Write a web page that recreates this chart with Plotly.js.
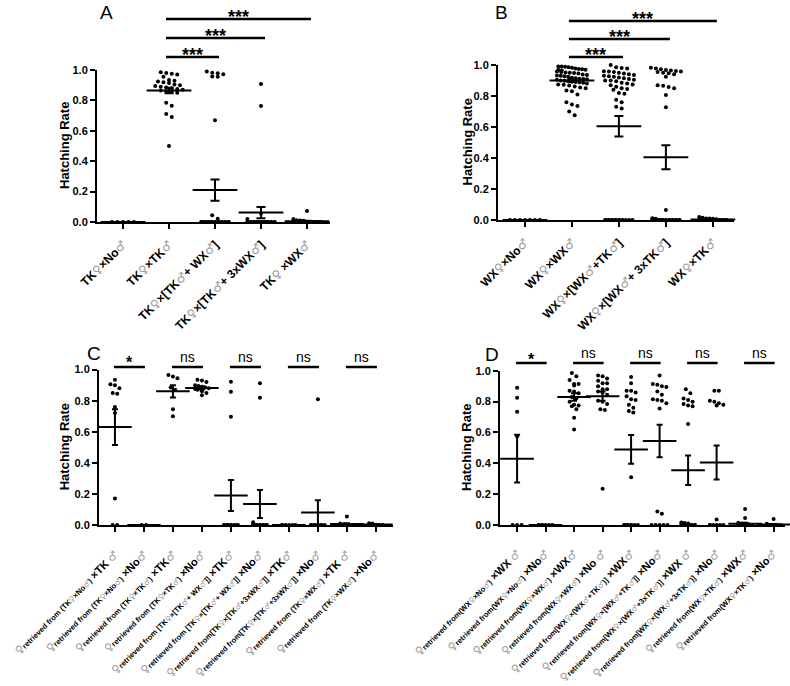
<!DOCTYPE html>
<html><head><meta charset="utf-8">
<script src="https://cdn.plot.ly/plotly-3.0.1.min.js"></script>
<style>html,body{margin:0;padding:0;background:#fff}</style>
</head><body>
<div id="chart" style="width:790px;height:686px"></div>
<script>
// ================= DATA =================
// Panel A – TK females
const labelsA = ['TK♀×No♂','TK♀×TK♂','TK♀×[TK♂+ WX♂]','TK♀×[TK♂+ 3xWX♂]','TK♀ ×WX♂'];
const A_TKxNo = [0,0,0,0,0];
const A_TKxTK = [0.985,0.98,0.975,0.97,0.955,0.935,0.93,0.925,0.92,0.915,0.905,0.90,0.895,0.89,0.885,0.88,0.875,0.87,0.865,0.86,0.855,0.85,0.785,0.765,0.71,0.69,0.50];
const A_TKxTKWX = [0.99,0.982,0.978,0.972,0.958,0.955,0.67,0.044,0.022,0,0,0,0,0,0,0,0,0,0,0,0,0,0,0,0,0,0,0,0,0,0];
const A_TKxTK3WX = [0.908,0.763,0.055,0.02,0,0,0,0,0,0,0,0,0,0,0,0,0,0,0,0,0,0,0,0,0,0,0,0];
const A_TKxWX = [0.073,0.02,0.012,0.01,0.008,0,0,0,0,0,0,0,0,0,0,0,0,0,0,0,0,0,0,0];
const meanA = [0,0.865,0.21,0.062,0.005];
const semA  = [0,0.018,0.07,0.037,0.004];

// Panel B – WX females
const labelsB = ['WX♀×No♂','WX♀×WX♂','WX♀×[WX♂+TK♂]','WX♀×[WX♂+ 3xTK♂]','WX♀×TK♂'];
const B_WXxNo = [0,0,0,0,0,0,0];
const B_WXxWX = [0.99,0.99,0.988,0.985,0.982,0.978,0.975,0.972,0.97,0.968,0.965,0.958,0.955,0.952,0.95,0.948,0.945,0.938,0.935,0.932,0.93,0.928,0.925,0.918,0.915,0.912,0.91,0.908,0.905,0.90,0.898,0.895,0.892,0.89,0.888,0.885,0.88,0.875,0.872,0.868,0.862,0.855,0.85,0.835,0.83,0.81,0.76,0.745,0.735,0.70,0.675];
const B_WXxWXTK = [1.0,0.985,0.98,0.978,0.96,0.958,0.955,0.95,0.945,0.94,0.935,0.93,0.928,0.925,0.92,0.915,0.91,0.905,0.90,0.90,0.895,0.885,0.88,0.875,0.87,0.86,0.85,0.845,0.84,0.82,0.815,0.775,0.76,0.73,0.72,0,0,0,0,0,0,0,0,0,0,0,0,0,0,0];
const B_WXxWX3TK = [0.983,0.978,0.972,0.968,0.965,0.961,0.958,0.955,0.95,0.946,0.94,0.925,0.87,0.866,0.858,0.85,0.806,0.727,0.065,0.012,0.008,0,0,0,0,0,0,0,0,0,0,0,0,0,0,0,0,0,0,0,0];
const B_WXxTK = [0.02,0.015,0.01,0.01,0.008,0.005,0,0,0,0,0,0,0,0,0,0,0,0,0,0,0,0];
const meanB = [0,0.90,0.605,0.405,0.003];
const semB  = [0,0.01,0.066,0.077,0.002];

// Panel C – females retrieved from TK crosses, re-mated
const fromC = ['♀retrieved from (TK♀×No♂)','♀retrieved from (TK♀×No♂)','♀retrieved from (TK♀×TK♂)','♀retrieved from (TK♀×TK♂)','♀retrieved from [TK♀×[TK♂+ WX♂]]','♀retrieved from [TK♀×[TK♂+ WX♂]]','♀retrieved from[TK♀×[TK♂+3xWX♂]]','♀retrieved from[TK♀×[TK♂+3xWX♂]]','♀retrieved from (TK♀×WX♂)','♀retrieved from (TK♀×WX♂)'];
const mateC = ['×TK ♂','×No♂','×TK♂','×No♂','×TK♂','×No♂','×TK♂','×No♂','×TK ♂','×No♂'];
const C0 = [0.935,0.905,0.90,0.88,0.85,0.845,0.76,0.72,0.17,0,0];
const C1 = [0,0];
const C2 = [0.965,0.955,0.945,0.885,0.87,0.745,0.70];
const C3 = [0.935,0.93,0.92,0.90,0.895,0.89,0.885,0.88,0.875,0.87,0.86,0.85,0.835];
const C4 = [0.922,0.858,0.697,0,0,0,0,0,0,0,0,0,0];
const C5 = [0.912,0.819,0.017,0,0,0,0,0,0,0,0,0,0];
const C6 = [0,0,0,0,0,0];
const C7 = [0.809,0,0,0,0,0,0,0,0,0];
const C8 = [0.055,0.01,0.005,0,0,0,0,0,0,0];
const C9 = [0.012,0.01,0,0,0,0,0,0];
const meanC = [0.63,0,0.86,0.882,0.19,0.135,0,0.08,0.006,0.003];
const semC  = [0.115,0,0.04,0.01,0.10,0.09,0,0.08,0.005,0.002];
const sigC  = ['*','ns','ns','ns','ns'];

// Panel D – females retrieved from WX crosses, re-mated
const fromD = ['♀retrieved from(WX♀×No♂)','♀retrieved from(WX♀×No♂)','♀retrieved from(WX♀×WX♂)','♀retrieved from(WX♀×WX♂)','♀retrieved from[WX♀×(WX♂+TK♂)]','♀retrieved from[WX♀×[WX♂+TK♂]]','♀retrieved from[WX♀×(WX♂+3xTK♂)]','♀retrieved from[WX♀×(WX♂+3xTK♂)]','♀retrieved from(WX♀×TK♂)','♀retrieved from(WX♀×TK♂)'];
const mateD = ['×WX ♂','×No♂','×WX♂','×No ♂','×WX♂','×No♂','×WX ♂','×No♂','×WX♂','×No♂'];
const D0 = [0.89,0.825,0.735,0.575,0,0,0];
const D1 = [0,0,0,0,0,0,0];
const D2 = [0.985,0.965,0.94,0.915,0.905,0.915,0.87,0.865,0.855,0.83,0.82,0.80,0.78,0.775,0.77,0.75,0.695,0.62];
const D3 = [0.97,0.965,0.95,0.935,0.92,0.92,0.90,0.88,0.88,0.865,0.86,0.845,0.805,0.80,0.785,0.75,0.745,0.235];
const D4 = [0.96,0.92,0.87,0.87,0.86,0.835,0.815,0.81,0.78,0.76,0.74,0.73,0.31,0,0,0,0,0,0,0,0];
const D5 = [0.97,0.915,0.91,0.90,0.895,0.865,0.845,0.815,0.81,0.805,0.79,0.755,0.088,0.073,0,0,0,0,0];
const D6 = [0.88,0.855,0.82,0.81,0.80,0.785,0.775,0.77,0.655,0.017,0.013,0.01,0,0,0,0,0,0,0,0];
const D7 = [0.87,0.87,0.805,0.80,0.79,0.78,0.775,0.035,0,0,0,0,0,0];
const D8 = [0.103,0.045,0.015,0.01,0.008,0.005,0,0,0,0,0,0,0,0];
const D9 = [0.039,0.008,0,0,0,0,0,0,0];
const meanD = [0.43,0,0.83,0.835,0.49,0.545,0.355,0.405,0.008,0.003];
const semD  = [0.155,0,0.025,0.03,0.093,0.105,0.095,0.11,0.007,0.003];
const sigD  = ['*','ns','ns','ns','ns'];

// significance comparisons in A and B
const sigAB = [[1,4,'***'],[1,3,'***'],[1,2,'***']];
const yTitle = 'Hatching Rate';

// ================= DRAWING =================
const W = 790, H = 686;
const FONT = 'Liberation Sans, Arial, Helvetica, sans-serif';
const SYMCOL = '#9c9c9c';
function sym(s){ return s.replace(/[♀♂]/g, c => '<span style="color:'+SYMCOL+';font-weight:normal;font-family:DejaVu Sans">'+c+'</span>'); }
function longLabel(from, mate){
  return sym(from.slice(0,1)) + '<span style="font-size:7.6px">' + sym(from.slice(1)) + '</span> ' + sym(mate);
}

function swarm(vals, bin, step, maxHalf, minStep){
  const order = vals.map((v,i)=>i).sort((a,b)=>vals[b]-vals[a]);
  const rows = [];
  for(const i of order){
    const r = rows[rows.length-1];
    if(r && vals[r[0]] - vals[i] <= bin) r.push(i); else rows.push([i]);
  }
  const off = vals.map(()=>0);
  for(const r of rows){
    const k = r.length; let s = step, slots = k;
    if(k>1 && (k-1)*s/2 > maxHalf){
      s = 2*maxHalf/(k-1);
      if(s < minStep){ s = minStep; slots = Math.floor(2*maxHalf/minStep)+1; }
    }
    const kk = Math.min(k, slots);
    r.forEach((i,j)=>{ off[i] = ((j%kk)-(kk-1)/2)*s; });
  }
  return off;
}

const panels = [
  {letter:'A', groups:[A_TKxNo,A_TKxTK,A_TKxTKWX,A_TKxTK3WX,A_TKxWX], means:meanA, sems:semA,
   ticks:labelsA.map(sym), tickSize:12, labelGap:4, pxL:97, pxR:330, pyB:222, pyT:70, range:[-0.565,4.5],
   step:5.5, maxHalf:15, dot:4, meanW:32, cap:4.5, letterPos:[106,13], titleX:65},
  {letter:'B', groups:[B_WXxNo,B_WXxWX,B_WXxWXTK,B_WXxWX3TK,B_WXxTK], means:meanB, sems:semB,
   ticks:labelsB.map(sym), tickSize:12, labelGap:4, pxL:498, pxR:734, pyB:220, pyT:65, range:[-0.574,4.45],
   step:5.5, maxHalf:15, dot:4, meanW:32, cap:4.5, letterPos:[502,12], titleX:467},
  {letter:'C', groups:[C0,C1,C2,C3,C4,C5,C6,C7,C8,C9], means:meanC, sems:semC,
   ticks:fromC.map((f,i)=>longLabel(f,mateC[i])), tickSize:11, labelGap:12, pxL:99, pxR:393, pyB:525, pyT:369.6, range:[-0.55,9.59],
   step:4.5, maxHalf:8, dot:4, meanW:24, cap:3, letterPos:[94,353], titleX:64},
  {letter:'D', groups:[D0,D1,D2,D3,D4,D5,D6,D7,D8,D9], means:meanD, sems:semD,
   ticks:fromD.map((f,i)=>longLabel(f,mateD[i])), tickSize:11, labelGap:11, pxL:500, pxR:785, pyB:525, pyT:370.8, range:[-0.6,9.4],
   step:4.5, maxHalf:8, dot:4, meanW:24, cap:3, letterPos:[492,354], titleX:467}
];

const traces = [], shapes = [], annotations = [];
const layout = {width:W, height:H, margin:{l:0,r:0,t:0,b:0}, paper_bgcolor:'#fff', plot_bgcolor:'rgba(0,0,0,0)',
  showlegend:false, font:{family:FONT, color:'#000'}};

function catPx(p, c){ return p.pxL + (c - p.range[0])/(p.range[1]-p.range[0])*(p.pxR-p.pxL); }

panels.forEach((p, idx)=>{
  const s = idx===0 ? '' : String(idx+1);
  const pxPerCat = (p.pxR-p.pxL)/(p.range[1]-p.range[0]);
  const pxPerVal = (p.pyB-p.pyT);
  const xs=[], ys=[];
  p.groups.forEach((g,gi)=>{
    const off = swarm(g, 4/pxPerVal, p.step/pxPerCat, p.maxHalf/pxPerCat, 3.4/pxPerCat);
    g.forEach((v,k)=>{ xs.push(gi+off[k]); ys.push(v); });
  });
  traces.push({type:'scatter', mode:'markers', x:xs, y:ys, xaxis:'x'+s, yaxis:'y'+s,
    marker:{color:'#000', size:p.dot}, cliponaxis:false, hoverinfo:'y'});
  traces.push({type:'scatter', mode:'markers', x:p.groups.map((g,i)=>i), y:p.means, xaxis:'x'+s, yaxis:'y'+s,
    marker:{symbol:'line-ew', size:p.meanW, color:'#000', line:{color:'#000', width:2}},
    error_y:{type:'data', array:p.sems, visible:true, color:'#000', thickness:2, width:p.cap},
    cliponaxis:false, hoverinfo:'y'});

  layout['xaxis'+s] = {domain:[p.pxL/W, p.pxR/W], range:p.range, anchor:'y'+s,
    tickmode:'array', tickvals:p.groups.map((g,i)=>i), ticktext:p.ticks, tickangle:-45,
    ticklabeloverflow:'allow', ticklabelstandoff:p.labelGap,
    showline:true, linewidth:2, linecolor:'#000', ticks:'outside', ticklen:5, tickwidth:2, tickcolor:'#000',
    showgrid:false, zeroline:false, fixedrange:true,
    tickfont:{family:FONT, size:p.tickSize, color:'#000', weight:'bold'}};
  layout['yaxis'+s] = {domain:[1-p.pyB/H, 1-p.pyT/H], range:[0,1], anchor:'x'+s,
    tickmode:'linear', tick0:0, dtick:0.2, tickformat:'.1f',
    showline:true, linewidth:2, linecolor:'#000', ticks:'outside', ticklen:5, tickwidth:2, tickcolor:'#000',
    showgrid:false, zeroline:false, fixedrange:true,
    tickfont:{family:FONT, size:11, color:'#000', weight:'bold'}};

  annotations.push({xref:'paper', yref:'paper', x:p.titleX/W, y:1-(p.pyB+p.pyT)/2/H, text:yTitle, textangle:-90,
    showarrow:false, xanchor:'center', yanchor:'middle', font:{family:FONT, size:13, color:'#000', weight:'bold'}});
  annotations.push({xref:'paper', yref:'paper', x:p.letterPos[0]/W, y:1-p.letterPos[1]/H, text:p.letter,
    showarrow:false, xanchor:'center', yanchor:'middle', font:{family:FONT, size:19, color:'#000'}});
});

// significance bars A/B
[[panels[0],[19,38,57]],[panels[1],[21,39,57]]].forEach(([p,ys])=>{
  sigAB.forEach(([a,b,t],k)=>{
    const x1 = catPx(p,a)-3, x2 = catPx(p,b)+4, y = ys[k];
    shapes.push({type:'line', xref:'paper', yref:'paper', x0:x1/W, x1:x2/W, y0:1-y/H, y1:1-y/H, line:{color:'#000', width:2.5}});
    annotations.push({xref:'paper', yref:'paper', x:(x1+x2)/2/W, y:1-(y+10)/H, text:t, showarrow:false,
      xanchor:'center', yanchor:'bottom', font:{family:FONT, size:18, color:'#000', weight:'bold'}});
  });
});
// significance bars C/D (pairs)
[[panels[2],sigC,367,6],[panels[3],sigD,363,7]].forEach(([p,sig,y,starShift])=>{
  sig.forEach((t,k)=>{
    const x1 = catPx(p,2*k)-1, x2 = catPx(p,2*k+1)+1;
    shapes.push({type:'line', xref:'paper', yref:'paper', x0:x1/W, x1:x2/W, y0:1-y/H, y1:1-y/H, line:{color:'#000', width:2.5}});
    const star = t.indexOf('*')>=0;
    annotations.push({xref:'paper', yref:'paper', x:(x1+x2)/2/W, y:1-(y+(star?starShift:0))/H, text:t, showarrow:false,
      xanchor:'center', yanchor:'bottom', font:{family:FONT, size:star?16:14, color:'#000', weight:star?'bold':'normal'}});
  });
});

layout.shapes = shapes;
layout.annotations = annotations;
Plotly.newPlot('chart', traces, layout, {displayModeBar:false, staticPlot:true});
</script>
</body></html>
